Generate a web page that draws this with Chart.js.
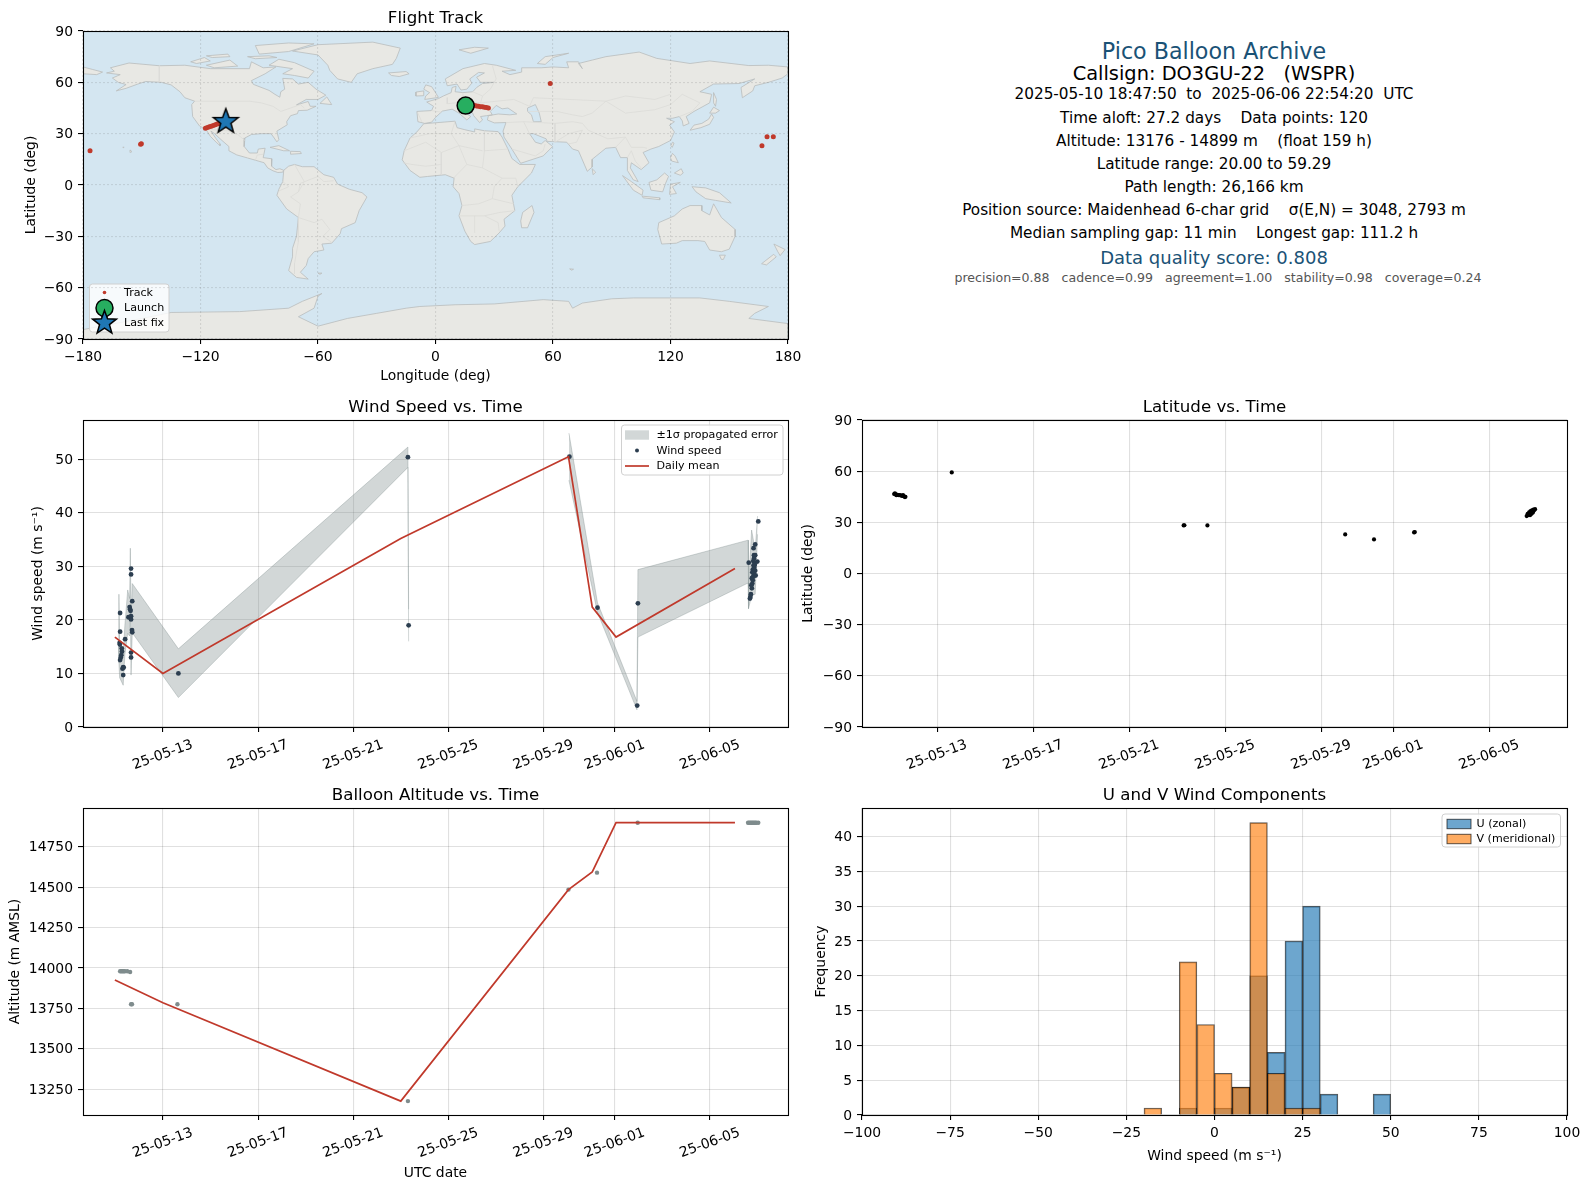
<!DOCTYPE html>
<html>
<head>
<meta charset="utf-8">
<title>Pico Balloon Archive</title>
<script src="https://cdn.jsdelivr.net/npm/chart.js@4/dist/chart.umd.min.js"></script>
<style>
  html, body { margin: 0; background: #fff; }
  #page { position: relative; width: 1589px; height: 1189px; overflow: hidden; font-family: "DejaVu Sans", sans-serif; }
  #page canvas { position: absolute; }
  .info { position: absolute; left: 870px; width: 688px; text-align: center; white-space: pre; transform: translateY(-50%); color: #000; }
</style>
</head>
<body>
<div id="page"></div>
<script>
// ---- time axis (days counted from 1 May 2025, so 32 = 1 June)
const dateTicks = [13, 17, 21, 25, 29, 32, 36];
const dateTickLabels = ['25-05-13', '25-05-17', '25-05-21', '25-05-25', '25-05-29', '25-06-01', '25-06-05'];

// ---- wind speed
const windDays = [11.2, 11.2, 11.18, 11.19, 11.27, 11.28, 11.25, 11.23, 11.2, 11.33, 11.35, 11.3, 11.33, 11.41,
  11.66, 11.66, 11.71, 11.6, 11.62, 11.64, 11.55, 11.66, 11.66, 11.7, 11.71, 11.66, 11.66,
  13.65, 23.3, 23.33, 30.09, 31.27, 32.97, 32.94,
  38.03, 37.9, 37.83, 37.85, 37.9, 37.85, 37.63, 37.99, 37.83, 37.87, 37.8, 37.85, 37.78, 37.9, 37.84, 37.92,
  37.76, 37.8, 37.78, 37.76, 37.72, 37.7, 37.68, 37.82, 37.86, 37.88, 37.8, 37.74];
const windSpeeds = [21.3, 17.8, 15.7, 15.4, 14.7, 14.1, 13.4, 13, 12.5, 11.2, 11.1, 10.9, 9.7, 16.4,
  29.6, 28.5, 23.5, 22.4, 22, 21.7, 20.5, 20.7, 20.1, 18.1, 17.7, 13.9, 13,
  10, 50.4, 19, 50.5, 22.3, 23.1, 4,
  38.4, 34.1, 33.4, 32.1, 32.1, 31.5, 30.7, 30.9, 30.2, 30.2, 29.4, 29.2, 28.9, 29.2, 28.6, 28.3,
  27.8, 27.4, 26.8, 25.9, 24.8, 24.3, 24, 31, 29.8, 30.4, 28, 26.5];

// ---- propagated error band, null breaks it where the reference has no fill
const bandDays = [11.13, 11.15, 11.18, 11.33, 11.4, 11.52, 11.6, 11.63, 11.66, 11.71, 13.65, 23.3, 23.33, 26,
  30.07, 31.27, 32.93, 32.97, 37.6, 37.62, 37.75, 37.9, 38];
const bandUpper = [16, 24.8, 15, 13.5, 19, 25.6, 24, 33.4, 20, 26.8, 14.6, 52.3, 22, null,
  54.9, 23.2, 4.8, 29.4, 34.9, 26, 36.8, 33, 39.4];
const bandLower = [15, 12, 9.2, 7.8, 13.5, 17.5, 17, 23, 9.7, 17.6, 5.5, 48.5, 16, null,
  46.1, 21.4, 3.2, 16.8, 26.9, 22.1, 24.5, 24.8, 36];

// ---- daily means
const meanDays = [10.98, 13, 23, 30.05, 31.05, 32.05, 37.05];
const meanWind = [16.8, 10, 35.2, 50.5, 22.4, 16.8, 29.6];
const meanAlt = [13925, 13785, 13176, 14485, 14595, 14899, 14899];

// ---- latitude
const latDays = [11.21, 11.25, 11.3, 11.35, 11.4, 11.45, 11.5, 11.55, 11.6, 11.64, 11.68, 11.24, 11.3, 11.58, 11.66,
  13.61, 23.27, 23.3, 24.26, 30, 31.2, 32.87, 32.9,
  37.56, 37.6, 37.64, 37.68, 37.72, 37.76, 37.8, 37.84, 37.88, 37.91, 37.6, 37.66, 37.72, 37.78, 37.84, 37.7, 37.76, 37.82];
const latValues = [46.6, 46.5, 46.3, 46.1, 46, 45.9, 45.7, 45.5, 45.3, 45.1, 45, 47, 45.9, 45.9, 44.8,
  59.29, 28.2, 28.3, 28.2, 22.9, 20, 24.1, 24.3,
  33.7, 34.2, 34.6, 35, 35.4, 35.9, 36.3, 36.8, 37.2, 37.7, 35, 35.8, 36.6, 37.1, 37.5, 34.2, 35, 35.7];

// ---- altitude
const altDays = [11.2, 11.25, 11.3, 11.35, 11.4, 11.5, 11.62, 11.66, 11.7, 13.61, 23.3, 30.05, 31.25, 32.96,
  37.6, 37.65, 37.7, 37.75, 37.8, 37.85, 37.9, 37.95, 38.03];
const altValues = [13980, 13980, 13980, 13980, 13980, 13980, 13975, 13775, 13775, 13775, 13176, 14485, 14590, 14899,
  14899, 14899, 14899, 14899, 14899, 14899, 14899, 14899, 14899];

// ---- flight track
const trackLon = [15.6, 20, 21, 22, 23, 24, 25, 26, 27, 58.6, 169.3, 172.5, 166.7, -176.4, -150.2, -150.6,
  -117.5, -116.5, -115.5, -114.5, -113.5, -112.5, -111.5, -110.5, -109.5, -108.5, -107.5];
const trackLat = [46.6, 46.4, 46.2, 46, 45.8, 45.7, 45.5, 45.3, 45, 59.29, 28.2, 28.2, 22.9, 20, 24.1, 23.8,
  33.2, 33.6, 34, 34.4, 34.8, 35.2, 35.6, 36, 36.4, 36.9, 37.3];
const launchLon = [15.4];
const launchLat = [46.4];
const lastLon = [-107.1];
const lastLat = [37.5];

// ---- histogram (bin centres, 5 m/s wide)
const uCentres = [-7.5, 2.5, 7.5, 12.5, 17.5, 22.5, 27.5, 32.5, 47.5];
const uCounts = [1, 1, 4, 20, 9, 25, 30, 3, 3];
const vCentres = [-17.5, -7.5, -2.5, 2.5, 7.5, 12.5, 17.5, 22.5, 27.5];
const vCounts = [1, 22, 13, 6, 4, 42, 6, 1, 1];

// ---- tick values
const lonTicks = [-180, -120, -60, 0, 60, 120, 180];
const latTicks = [-90, -60, -30, 0, 30, 60, 90];
const windTicks = [0, 10, 20, 30, 40, 50];
const altTicks = [13250, 13500, 13750, 14000, 14250, 14500, 14750];
const histXTicks = [-100, -75, -50, -25, 0, 25, 50, 75, 100];
const histYTicks = [0, 5, 10, 15, 20, 25, 30, 35, 40];

// ---- header text
const infoLines = [
  'Pico Balloon Archive',
  'Callsign: DO3GU-22   (WSPR)',
  '2025-05-10 18:47:50  to  2025-06-06 22:54:20  UTC',
  'Time aloft: 27.2 days    Data points: 120',
  'Altitude: 13176 - 14899 m    (float 159 h)',
  'Latitude range: 20.00 to 59.29',
  'Path length: 26,166 km',
  'Position source: Maidenhead 6-char grid    σ(E,N) = 3048, 2793 m',
  'Median sampling gap: 11 min    Longest gap: 111.2 h',
  'Data quality score: 0.808',
  'precision=0.88   cadence=0.99   agreement=1.00   stability=0.98   coverage=0.24'
];
const infoRowY = [50.5, 73, 94, 118, 141, 163.5, 186.5, 210, 233, 256.5, 277];
const infoSizes = [22.2, 19.4, 15.27, 15.27, 15.27, 15.27, 15.27, 15.27, 15.27, 18, 12.57];
const infoShift = [0, 0, 0, 0, 0, 0, 0, 0, 0, 0, 4];
const infoColors = ['#1a5276', '#000', '#000', '#000', '#000', '#000', '#000', '#000', '#000', '#1a5276', '#555'];

// ---- land outlines as lon/lat pairs
const northAmerica = [[-168,65.5],[-164,66.5],[-166,68.5],[-156.5,71.3],[-141,69.7],[-128,70],[-115,68],[-108,68],[-95,68],[-94,72],[-88,68.5],[-81.5,69],[-87,65],[-94,61],[-93,58.8],[-85,55.3],[-82,53],[-79.5,51.3],[-79,54.5],[-77,56],[-78,62.3],[-73,62],[-70,59],[-65,60],[-61,56],[-56,52.5],[-60,50],[-66,50],[-71,46.8],[-65,48.8],[-64,46],[-61,46],[-65.5,43.7],[-70,43.5],[-70.5,41.7],[-74,40.5],[-76,37],[-75.7,35.2],[-81,31.5],[-80,26.5],[-81,25.2],[-82.7,28],[-84,30],[-89,30],[-94,29.5],[-97.3,27.5],[-97.7,22.5],[-95,18.7],[-91,18.7],[-90.5,21],[-87,21.5],[-88,16],[-83.5,15.3],[-83.7,11],[-81.5,9],[-79.5,9.5],[-77.5,8.6],[-78,7.5],[-80.5,7.3],[-83,8.3],[-85.7,10],[-87.5,13],[-92,14.5],[-96,15.8],[-101.5,17.6],[-105.5,20],[-105.5,22.5],[-109,26],[-112.8,30],[-114.7,31.5],[-112,27],[-110,24],[-110,23],[-112,25],[-115,28.5],[-117.2,32.5],[-120.5,34.5],[-124,40],[-124.5,47],[-123,49],[-128,51],[-130.5,54.5],[-135,58.5],[-140,60],[-148,60.5],[-152,59],[-158,56.5],[-163,55],[-158,58.7],[-162,60],[-165,62.5],[-161,64.5],[-168,65.5]];
const greenland = [[-73,78.3],[-60,82],[-32,83.5],[-18,80],[-20,74],[-22,70.5],[-32,68],[-40,65],[-43,60],[-50,62],[-54,67],[-55,70],[-60,76],[-73,78.3]];
const southAmerica = [[-77.5,8.6],[-75,11],[-72,12],[-68,10.7],[-62,10.7],[-57,6],[-52,4.5],[-50,0.5],[-44,-2.5],[-37.5,-4.5],[-35,-7],[-39,-15],[-41,-22],[-48,-25.5],[-48.7,-28.5],[-53,-34],[-58,-34.5],[-57,-38],[-62,-39],[-65,-43],[-66,-47],[-69,-51],[-65,-55],[-71,-54],[-75,-50],[-73,-42],[-73,-37],[-71,-30],[-70,-19],[-76,-14],[-81,-6],[-80,-2.5],[-78,2],[-77.5,8.6]];
const africa = [[-6,35.8],[10,37.3],[11,33.5],[15,32.3],[20,31],[20,32.8],[25,31.7],[32,31.2],[34,28],[37,21],[39,15.5],[43,12],[51,12],[49,7],[42,-1],[39,-6],[40.5,-15],[35,-20],[35.5,-24],[32.5,-28],[28,-33],[20,-34.8],[18,-33],[15,-27],[12,-18],[13.5,-12],[12,-5],[9,-1],[9.5,4],[5,6],[-4,5],[-8,4.5],[-13,8.5],[-17,14.7],[-16,20],[-13,27.5],[-9.5,31],[-6,35.8]];
const eurasia = [[-9,37],[-9.5,43],[-2,43.5],[-1,46],[-4.5,48.5],[1.5,50.5],[4,52],[8,54],[8.5,57],[10.5,57.7],[10,54.5],[14,54],[19,54.5],[21,57],[24,59.3],[30,60],[23,60],[21,63],[25,65.5],[22,65.8],[17.5,62],[18.5,59.5],[16,56],[13,55.5],[11,59],[6,58],[5,62],[14,68],[25,71],[31,70],[41,67],[34,66.5],[38,64.5],[44,66],[44,68.5],[54,68.5],[60,69],[68,68.5],[67,72],[73,72],[75,68],[73,71],[80,73],[87,75],[104,77.7],[113,74],[130,71],[140,72.5],[160,69.8],[170,70],[180,69],[180,65],[177,62.5],[170,60],[163,58],[162,55],[156.7,51],[156,57],[163,62],[155,59.3],[142,59],[135,54.5],[141,53],[140,48],[132,43],[128,40],[129.5,36],[126.5,34.5],[126,37.5],[124.5,40],[121,39],[118,39],[122,37],[119.5,35],[122,31],[120,26],[114,22.5],[110,21],[106,19],[109,13],[105,9],[100,13],[99.5,10],[103.5,2],[101,3],[98,8.5],[98,16],[94.5,16],[92,22],[87,21.5],[80,15],[80,10.5],[77.5,8],[73,20],[70,21],[67,25],[57,25.5],[56.5,27],[50,30],[48,30],[51,25],[54,24],[56,26],[59.8,22.5],[55,17],[43.5,12.7],[39,21],[35,28],[34.5,31.5],[36,36.5],[30,36.3],[26.5,38],[27,40.5],[32,41.5],[38,41],[41.5,41.5],[37,45],[34,44.5],[31,46.5],[28,43],[29,41],[26,40.5],[23,40],[24,38],[22.5,36.5],[19.5,40.5],[19,42],[14,45],[12.5,44.5],[18,40],[16,38],[12,42],[8.5,44.3],[3.5,43.2],[0,39.5],[-2,36.7],[-5.5,36],[-9,37]];
const chukotkaEnd = [[-180,69],[-175,67.5],[-170,66],[-173,64.5],[-180,65],[-180,69]];
const australia = [[114,-22],[122,-18],[126,-14],[130,-12],[136,-12],[136,-15],[140,-17.5],[142,-11],[146,-19],[153,-26],[153,-30],[150,-37.5],[146,-39],[140,-38],[137.5,-33],[134,-32.5],[126,-32.5],[123,-34],[115.5,-34.5],[113.5,-26],[114,-22]];
const antarctica = [[-180,-84.5],[-150,-78],[-135,-74.5],[-100,-74],[-75,-72],[-68,-68],[-58,-63.4],[-60,-65],[-62,-72],[-70,-77],[-60,-82.5],[-45,-78],[-30,-75],[-15,-72],[-8,-71],[10,-70],[30,-69.5],[55,-67],[68,-68],[70,-72],[75,-69],[90,-66.5],[101,-66],[135,-66],[150,-68],[170,-71],[163,-75],[160,-78],[180,-81],[180,-90],[-180,-90],[-180,-84.5]];
const smallIslands = [
  [[-80,73.5],[-72,71.5],[-62,66.5],[-65,62.5],[-72,64],[-78,65],[-73,68],[-85,70],[-80,73.5]],
  [[-117,70],[-105,73],[-101,69.5],[-113,68.5],[-117,70]],
  [[-90,76.5],[-75,78],[-62,82.5],[-75,83],[-92,81.5],[-90,76.5]],
  [[-125,72],[-118,74.5],[-115,72.5],[-122,71],[-125,72]],
  [[-117,75.5],[-106,76.5],[-105,75],[-114,74.5],[-117,75.5]],
  [[-96,75],[-85,75.5],[-81,74.5],[-92,73.8],[-96,75]],
  [[-59,47.7],[-53,47],[-55.5,51.5],[-59,47.7]],
  [[-84.5,22],[-80,23],[-74.5,20],[-77.5,20],[-84.5,22]],
  [[-74,19.7],[-69,19.5],[-68.5,18.4],[-74,18],[-74,19.7]],
  [[-156,20.5],[-155,19.5],[-155.8,19],[-156,20.5]],
  [[-159.7,22],[-159,22.2],[-159.3,21.8],[-159.7,22]],
  [[-5.5,50],[1.5,51.2],[0,54],[-2,57.5],[-5,58.5],[-6,56],[-3,54],[-5,52],[-5.5,50]],
  [[-10,52],[-6,52.2],[-6,55],[-10,54.3],[-10,52]],
  [[-24,65.5],[-15,66.3],[-13.5,65],[-18.5,63.4],[-22.5,64],[-24,65.5]],
  [[12,79],[20,80.5],[27,80],[18,77],[12,79]],
  [[52,71],[56,75],[68,77],[60,74.5],[56,70.5],[52,71]],
  [[142,54],[143.5,50],[143,46],[142,48],[142,54]],
  [[130,32],[135.5,33.5],[140,35.5],[142,39.5],[141,41.5],[139.5,38.5],[136,36],[132,35],[130,32]],
  [[140,42],[142,45.5],[145,43.5],[143,42],[140,42]],
  [[120.2,23],[121,25],[121.8,24.5],[120.9,22],[120.2,23]],
  [[120,16],[121,18.5],[122.3,17],[124,13],[120.6,14],[120,16]],
  [[122,7],[125.5,9.5],[126.5,7],[125,5.7],[122,7]],
  [[80,9.5],[81.8,7.5],[80.5,6],[80,9.5]],
  [[95.5,5.5],[100,2],[106,-3],[105.5,-6],[101,-3],[95.5,5.5]],
  [[105.5,-6.5],[114.5,-7.5],[114.5,-8.6],[106,-7.5],[105.5,-6.5]],
  [[109,1.5],[113,3],[117,7],[119,5],[117.5,1],[116,-4],[110,-3],[109,1.5]],
  [[119.5,-5.5],[120,0.5],[125,1.5],[121,-1],[123,-5],[119.5,-5.5]],
  [[131,-1],[138,-1.7],[145,-4.5],[151,-10.5],[143,-9],[138,-8],[133,-4],[131,-1]],
  [[145,-41],[148,-41],[147,-43.5],[146,-43.5],[145,-41]],
  [[172.8,-34.5],[178.5,-37.7],[176,-41.3],[174.8,-39],[172.8,-34.5]],
  [[172.7,-40.5],[174,-42],[169,-46.7],[166.5,-46],[172.7,-40.5]],
  [[49.3,-12],[50.3,-16],[47,-25],[44,-25],[43.5,-21],[44.5,-16],[49.3,-12]],
  [[68.5,-49],[70.5,-49.2],[69.5,-49.8],[68.5,-49]],
  [[-60,-51.5],[-58,-51.5],[-59,-52.2],[-60,-51.5]]
];
const caspianSea = [[47,45],[51,47],[53,42],[54,37],[50,37],[49,41],[47,43],[47,45]];
const borderLines = [
  [[-141,69.7],[-141,60]],
  [[-123,49],[-95,49],[-89,48],[-83,46],[-79,43],[-74,45],[-69,47],[-67,45]],
  [[-117,32.5],[-106,31.7],[-101,29.5],[-97.3,26]],
  [[-92,14.5],[-91,17.5],[-88,18]],
  [[-70,-19],[-69,-11],[-74,-7],[-70,-4],[-69,1],[-60,5],[-57,2],[-52,2.5]],
  [[-70,-19],[-62,-22],[-58,-20],[-54,-26],[-57.5,-30],[-53,-33.5]],
  [[-70,-19],[-70,-33],[-72,-46],[-72,-52]],
  [[-72,12],[-67,2],[-70,-4]],
  [[-78,2],[-75,-1],[-80,-3.5]],
  [[25,31.7],[25,20],[24,10],[34,4],[41,4],[42,-1]],
  [[10,37.3],[8,30],[12,23],[24,20]],
  [[-13,27.5],[-3,30],[8,30]],
  [[-16,20],[-5,25],[3,19],[12,23],[16,12],[24,10]],
  [[3,19],[3,12],[-5,11],[-12,12],[-16.7,13]],
  [[3,12],[3,6]],
  [[16,12],[10,5],[9.5,4]],
  [[25,20],[37,21]],
  [[34,4],[30,-1],[29,-8],[40,-11]],
  [[13.5,-12],[22,-11],[29,-8]],
  [[12,-18],[25,-18],[33,-16],[40.5,-15]],
  [[20,-28],[20,-18]],
  [[25,-18],[32,-22],[32.5,-27]],
  [[6,51],[6,47.5],[14,48.5],[14,54]],
  [[-9,42],[-7,37]],
  [[-2,43.5],[3,42.5]],
  [[14,48.5],[23,48],[24,52],[19,54.5]],
  [[23,48],[40,50],[48,46]],
  [[28,56],[24,52]],
  [[28,56],[31,62],[29,70]],
  [[36,36.5],[45,37],[48,30]],
  [[45,37],[61,36],[61,25]],
  [[39,21],[51,17],[55,20],[56,24]],
  [[47,43],[62,43],[70,41],[75,40],[80,42],[87,49],[97,42],[112,44],[120,47],[126,53],[135,48],[131,43]],
  [[87,49],[50,51],[48,46]],
  [[61,36],[70,37],[75,36],[78,32],[88,27],[97,28],[100,22],[106,22],[108,21.5]],
  [[61,25],[68,30],[75,32]],
  [[68,24],[72,25],[75,32]],
  [[92,22],[97,28]],
  [[98,16],[100,20],[102,14],[105,10]],
  [[124.5,40],[131,43]],
  [[87,49],[97,52],[112,50],[120,53]]
];

const mapLand = [northAmerica, greenland, southAmerica, africa, eurasia, chukotkaEnd, australia, antarctica, ...smallIslands];

function zip(xs, ys) {
  return xs.map((x, i) => ({ x, y: ys[i] }));
}

function lonLat(points) {
  return points.map(([x, y]) => ({ x, y }));
}

function plainNumber(v) {
  return String(v).replace('-', '\u2212');
}

const TICK_FONT = { family: '"DejaVu Sans"', size: 13.9 };
const LEGEND_FONT = '11.1px "DejaVu Sans"';
const GRID = 'rgba(0,0,0,0.12)';
const TITLE_H = 22;

// black box round the plot, sea colour under the map
const framePlugin = {
  id: 'frame',
  afterDraw(chart) {
    const { ctx, chartArea: a } = chart;
    ctx.save();
    ctx.strokeStyle = '#000';
    ctx.lineWidth = 1.1;
    ctx.strokeRect(a.left + 0.5, a.top + 0.5, a.width, a.height);
    ctx.restore();
  }
};

const seaPlugin = {
  id: 'sea',
  beforeDatasetsDraw(chart) {
    const { ctx, chartArea: a } = chart;
    ctx.save();
    ctx.fillStyle = '#d4e6f1';
    ctx.fillRect(a.left, a.top, a.width, a.height);
    ctx.restore();
  }
};

function starPath(ctx, cx, cy, outer, inner) {
  ctx.beginPath();
  for (let i = 0; i < 10; i++) {
    const r = i % 2 ? inner : outer;
    const t = -Math.PI / 2 + i * Math.PI / 5;
    ctx[i ? 'lineTo' : 'moveTo'](cx + r * Math.cos(t), cy + r * Math.sin(t));
  }
  ctx.closePath();
}

function makeStar() {
  const c = document.createElement('canvas');
  c.width = c.height = 30;
  const g = c.getContext('2d');
  starPath(g, 15, 15.8, 13, 5.4);
  g.fillStyle = '#1f77b4';
  g.fill();
  g.strokeStyle = '#000';
  g.lineWidth = 1.5;
  g.stroke();
  return c;
}

function drawLegendMark(ctx, item, x, y) {
  ctx.save();
  if (item.kind === 'bar') {
    ctx.fillStyle = item.fill;
    ctx.fillRect(x - 12, y - 4.7, 24, 9.4);
    if (item.edge) {
      ctx.strokeStyle = item.edge;
      ctx.strokeRect(x - 12, y - 4.7, 24, 9.4);
    }
  } else if (item.kind === 'line') {
    ctx.strokeStyle = item.edge;
    ctx.lineWidth = 1.7;
    ctx.beginPath();
    ctx.moveTo(x - 12, y);
    ctx.lineTo(x + 12, y);
    ctx.stroke();
  } else if (item.kind === 'star') {
    starPath(ctx, x, y, 12.5, 5.2);
    ctx.fillStyle = item.fill;
    ctx.fill();
    ctx.strokeStyle = '#000';
    ctx.lineWidth = 1.5;
    ctx.stroke();
  } else {
    ctx.beginPath();
    ctx.arc(x, y, item.r, 0, Math.PI * 2);
    ctx.fillStyle = item.fill;
    ctx.fill();
    if (item.edge) {
      ctx.strokeStyle = item.edge;
      ctx.lineWidth = 1.5;
      ctx.stroke();
    }
  }
  ctx.restore();
}

// matplotlib style legend, box given in page pixels
function legendPlugin(panel, box, items) {
  return {
    id: 'legendBox',
    afterDatasetsDraw(chart) {
      const ctx = chart.ctx;
      const ox = panel.left - panel.axisW;
      const oy = panel.top - TITLE_H;
      ctx.save();
      ctx.translate(-ox, -oy);
      ctx.beginPath();
      ctx.roundRect(box.x, box.y, box.w, box.h, 3);
      ctx.fillStyle = 'rgba(255,255,255,0.8)';
      ctx.fill();
      ctx.strokeStyle = '#d0d0d0';
      ctx.lineWidth = 1;
      ctx.stroke();
      ctx.font = LEGEND_FONT;
      ctx.textBaseline = 'middle';
      items.forEach((item, i) => {
        const y = box.rowY[i];
        drawLegendMark(ctx, item, box.markX, y);
        ctx.fillStyle = '#000';
        ctx.fillText(item.label, box.textX, y + 0.5);
      });
      ctx.restore();
    }
  };
}

function xAxis(panel, opts) {
  const rotated = opts.labels != null;
  return {
    type: 'linear',
    bounds: 'data',
    min: opts.min,
    max: opts.max,
    afterBuildTicks(scale) { scale.ticks = opts.ticks.map((value) => ({ value })); },
    afterFit(scale) { scale.height = panel.axisH; scale.paddingLeft = 0; scale.paddingRight = 0; },
    title: opts.title ? { display: true, text: opts.title, font: TICK_FONT, color: '#000', padding: 0 } : { display: false },
    border: { display: false, dash: opts.dash },
    grid: { color: opts.grid || GRID, lineWidth: 1.1, tickColor: '#000', tickLength: 5, z: opts.z || 0 },
    ticks: {
      color: '#000',
      font: TICK_FONT,
      padding: rotated ? 4.5 : 5,
      autoSkip: false,
      minRotation: rotated ? 20 : 0,
      maxRotation: rotated ? 20 : 0,
      labelOffset: rotated ? 29.5 : 0,
      callback(v) {
        return rotated ? opts.labels[opts.ticks.indexOf(v)] : plainNumber(v);
      }
    }
  };
}

function yAxis(panel, opts) {
  return {
    type: 'linear',
    bounds: 'data',
    min: opts.min,
    max: opts.max,
    afterBuildTicks(scale) { scale.ticks = opts.ticks.map((value) => ({ value })); },
    afterFit(scale) { scale.width = panel.axisW; scale.paddingTop = 0; scale.paddingBottom = 0; },
    title: { display: true, text: opts.title, font: TICK_FONT, color: '#000', padding: 0 },
    border: { display: false, dash: opts.dash },
    grid: { color: opts.grid || GRID, lineWidth: 1.1, tickColor: '#000', tickLength: 5, z: opts.z || 0 },
    ticks: { color: '#000', font: TICK_FONT, padding: 5, labelOffset: 1, callback: plainNumber }
  };
}

function addPanel(panel, type, datasets, scales, plugins) {
  const canvas = document.createElement('canvas');
  const w = panel.axisW + panel.width + 30;
  const h = TITLE_H + panel.height + panel.axisH;
  canvas.width = w;
  canvas.height = h;
  canvas.style.left = (panel.left - panel.axisW) + 'px';
  canvas.style.top = (panel.top - TITLE_H) + 'px';
  canvas.style.width = w + 'px';
  canvas.style.height = h + 'px';
  document.getElementById('page').appendChild(canvas);
  return new Chart(canvas, {
    type,
    data: { datasets },
    options: {
      responsive: false,
      animation: false,
      devicePixelRatio: 1,
      layout: { padding: { right: 30, left: 0, top: 0, bottom: 0 } },
      plugins: {
        legend: { display: false },
        tooltip: { enabled: false },
        title: {
          display: true,
          text: panel.title,
          fullSize: false,
          color: '#000',
          font: { family: '"DejaVu Sans"', size: 16.67, weight: 'normal' },
          padding: { top: 0, bottom: 2 }
        }
      },
      scales
    },
    plugins: [framePlugin, ...plugins]
  });
}

function renderInfo() {
  const page = document.getElementById('page');
  infoLines.forEach((text, i) => {
    const row = document.createElement('div');
    row.className = 'info';
    row.textContent = text;
    row.style.top = infoRowY[i] + 'px';
    row.style.marginLeft = infoShift[i] + 'px';
    row.style.fontSize = infoSizes[i] + 'px';
    row.style.color = infoColors[i];
    page.appendChild(row);
  });
}

function renderMap() {
  const panel = { title: 'Flight Track', left: 83, top: 31, width: 705, height: 308, axisW: 60, axisH: 46 };
  const landSets = mapLand.map((shape) => ({
    data: lonLat(shape), showLine: true, fill: 'shape', backgroundColor: '#e8e8e4',
    borderColor: '#b9bcbc', borderWidth: 0.8, pointRadius: 0, tension: 0, order: 10
  }));
  const borderSets = borderLines.map((shape) => ({
    data: lonLat(shape), showLine: true, borderColor: '#dcdcd8', borderWidth: 0.8, pointRadius: 0, tension: 0, order: 5
  }));
  const datasets = [
    { data: zip(lastLon, lastLat), pointStyle: makeStar(), pointRadius: 15, order: 0 },
    { data: zip(launchLon, launchLat), pointRadius: 8.5, backgroundColor: '#27ae60', borderColor: '#000', borderWidth: 1.5, order: 1 },
    { data: zip(trackLon, trackLat), pointRadius: 2.5, borderWidth: 0, backgroundColor: '#c0392b', order: 2 },
    ...borderSets,
    { data: lonLat(caspianSea), showLine: true, fill: 'shape', backgroundColor: '#d4e6f1', borderColor: '#b9bcbc', borderWidth: 0.8, pointRadius: 0, tension: 0, order: 6 },
    ...landSets
  ];
  const gridLook = { grid: 'rgba(90,90,90,0.16)', dash: [2, 2], z: 1 };
  addPanel(panel, 'scatter', datasets, {
    x: xAxis(panel, { min: -180, max: 180, ticks: lonTicks, title: 'Longitude (deg)', ...gridLook }),
    y: yAxis(panel, { min: -90, max: 90, ticks: latTicks, title: 'Latitude (deg)', ...gridLook })
  }, [seaPlugin, legendPlugin(panel,
    { x: 89.5, y: 284, w: 79.5, h: 48, markX: 104.5, textX: 124, rowY: [292.5, 308, 323] },
    [
      { label: 'Track', kind: 'dot', r: 1.8, fill: '#c0392b' },
      { label: 'Launch', kind: 'dot', r: 8.5, fill: '#27ae60', edge: '#000' },
      { label: 'Last fix', kind: 'star', fill: '#1f77b4' }
    ])]);
}

function renderWind() {
  const panel = { title: 'Wind Speed vs. Time', left: 83, top: 420, width: 705, height: 307, axisW: 53, axisH: 60 };
  const band = 'rgba(127,140,141,0.35)';
  const datasets = [
    { data: zip(meanDays, meanWind), showLine: true, borderColor: '#c0392b', borderWidth: 1.7, pointRadius: 0, tension: 0, order: 0 },
    { data: zip(windDays, windSpeeds), pointRadius: 2.4, borderWidth: 0, backgroundColor: '#2c3e50', order: 1 },
    { data: zip(bandDays, bandUpper), showLine: true, borderWidth: 1, borderColor: band, pointRadius: 0, tension: 0, order: 2 },
    { data: zip(bandDays, bandLower), showLine: true, borderWidth: 1, borderColor: band, pointRadius: 0, tension: 0, fill: '-1', backgroundColor: band, order: 2 }
  ];
  addPanel(panel, 'scatter', datasets, {
    x: xAxis(panel, { min: 9.64, max: 39.28, ticks: dateTicks, labels: dateTickLabels }),
    y: yAxis(panel, { min: 0, max: 57.35, ticks: windTicks, title: 'Wind speed (m s\u207B\u00B9)' })
  }, [legendPlugin(panel,
    { x: 621.5, y: 425, w: 161.5, h: 50, markX: 637, textX: 656.5, rowY: [435, 450.5, 466] },
    [
      { label: '\u00B11\u03C3 propagated error', kind: 'bar', fill: band },
      { label: 'Wind speed', kind: 'dot', r: 2, fill: '#2c3e50' },
      { label: 'Daily mean', kind: 'line', edge: '#c0392b' }
    ])]);
}

function renderLatitude() {
  const panel = { title: 'Latitude vs. Time', left: 862, top: 420, width: 705, height: 307, axisW: 62, axisH: 60 };
  addPanel(panel, 'scatter', [
    { data: zip(latDays, latValues), pointRadius: 2.1, borderWidth: 0, backgroundColor: '#000' }
  ], {
    x: xAxis(panel, { min: 9.87, max: 39.24, ticks: dateTicks, labels: dateTickLabels }),
    y: yAxis(panel, { min: -90, max: 90, ticks: latTicks, title: 'Latitude (deg)' })
  }, []);
}

function renderAltitude() {
  const panel = { title: 'Balloon Altitude vs. Time', left: 83, top: 808, width: 705, height: 307, axisW: 76, axisH: 67 };
  addPanel(panel, 'scatter', [
    { data: zip(meanDays, meanAlt), showLine: true, borderColor: '#c0392b', borderWidth: 1.7, pointRadius: 0, tension: 0, order: 0 },
    { data: zip(altDays, altValues), pointRadius: 2.2, borderWidth: 0, backgroundColor: '#7f8c8d', order: 1 }
  ], {
    x: xAxis(panel, { min: 9.64, max: 39.28, ticks: dateTicks, labels: dateTickLabels, title: 'UTC date' }),
    y: yAxis(panel, { min: 13090, max: 14990, ticks: altTicks, title: 'Altitude (m AMSL)' })
  }, []);
}

function renderHistogram() {
  const panel = { title: 'U and V Wind Components', left: 862, top: 808, width: 705, height: 307, axisW: 49, axisH: 50 };
  const edge = 'rgba(0,0,0,0.65)';
  const blue = 'rgba(31,119,180,0.65)';
  const orange = 'rgba(255,127,14,0.65)';
  const common = { barPercentage: 1, categoryPercentage: 1, grouped: false, borderWidth: 1, borderColor: edge };
  const scales = {
    x: { ...xAxis(panel, { min: -100, max: 100, ticks: histXTicks, title: 'Wind speed (m s\u207B\u00B9)' }), offset: false },
    y: yAxis(panel, { min: 0, max: 44.1, ticks: histYTicks, title: 'Frequency' })
  };
  scales.x.grid.offset = false;
  addPanel(panel, 'bar', [
    { data: zip(vCentres, vCounts), backgroundColor: orange, order: 0, ...common },
    { data: zip(uCentres, uCounts), backgroundColor: blue, order: 1, ...common }
  ], scales, [legendPlugin(panel,
    { x: 1442, y: 814, w: 118.5, h: 33, markX: 1459, textX: 1476.5, rowY: [824, 839] },
    [
      { label: 'U (zonal)', kind: 'bar', fill: blue, edge },
      { label: 'V (meridional)', kind: 'bar', fill: orange, edge }
    ])]);
}

renderInfo();
renderMap();
renderWind();
renderLatitude();
renderAltitude();
renderHistogram();
</script>
</body>
</html>
